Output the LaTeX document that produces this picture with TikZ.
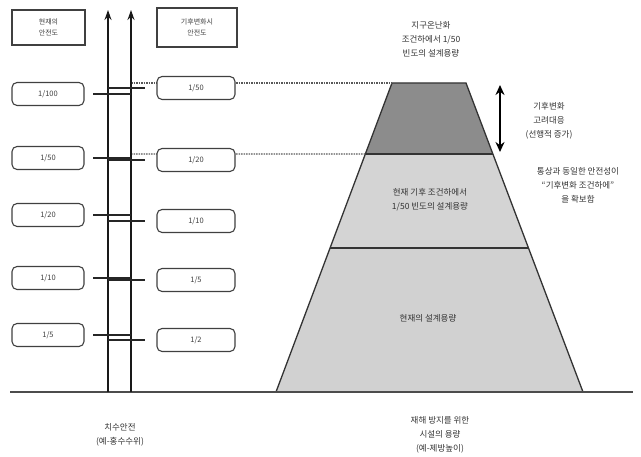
\documentclass[tikz,border=0pt]{standalone}
\usepackage{fontspec}
\setmainfont{Noto Sans CJK KR}
\usetikzlibrary{arrows.meta,calc}
\begin{document}
\begin{tikzpicture}[x=1pt,y=-1pt,
  txt/.style={font=\fontsize{8.5}{14}\selectfont, text=black!80, align=center, inner sep=1pt},
  hdrbox/.style={draw=black!75, line width=1.3pt, fill=white, minimum width=73pt, minimum height=35pt, font=\fontsize{7}{11}\selectfont, text=black!75, align=center},
  valbox/.style={draw=black!75, line width=1.1pt, rounded corners=5pt, fill=white, minimum width=72pt, minimum height=23pt, font=\fontsize{7.5}{9}\selectfont, text=black!75},
  axisline/.style={line width=1.7pt, draw=black!90, -{Stealth[length=10pt,width=7pt]}},
  tick/.style={line width=1.9pt, draw=black!85},
  dotline/.style={draw=black!65, line width=1.3pt, dash pattern=on 1.5pt off 1pt},
  edge/.style={draw=black!80, line width=1.3pt}
]
\useasboundingbox (0,0) rectangle (641,457);

% axes
\coordinate (a1b) at (108,392); \coordinate (a1t) at (108,10);
\coordinate (a2b) at (131,392); \coordinate (a2t) at (131,10);

% trapezoid corners
\coordinate (tl) at (392,83); \coordinate (tr) at (466,83);
\coordinate (bl) at (276,392); \coordinate (br) at (583,392);
\coordinate (m1l) at ($(tl)!0.2298!(bl)$); \coordinate (m1r) at ($(tr)!0.2298!(br)$);
\coordinate (m2l) at ($(tl)!0.534!(bl)$); \coordinate (m2r) at ($(tr)!0.534!(br)$);

\fill[black!45] (tl) -- (tr) -- (m1r) -- (m1l) -- cycle;
\fill[black!17] (m1l) -- (m1r) -- (m2r) -- (m2l) -- cycle;
\fill[black!18] (m2l) -- (m2r) -- (br) -- (bl) -- cycle;
\draw[edge] (bl) -- (tl) -- (tr) -- (br);
\draw[edge] (m1l) -- (m1r);
\draw[edge] (m2l) -- (m2r);

% dotted reference lines
\coordinate (d1) at (131,83); \coordinate (d2) at (131,154);
\draw[dotline] (d1) -- (tl);
\draw[dotline] (d2) -- (m1l);

% ground
\coordinate (g1) at (10,392); \coordinate (g2) at (633,392);
\draw[line width=2.5pt, draw=black!70] (g1) -- (g2);

\draw[axisline] (a1b) -- (a1t);
\draw[axisline] (a2b) -- (a2t);

% header boxes
\node[hdrbox] (h1) at (48.5,27.5) {현재의\\안전도};
\node[hdrbox, minimum width=80pt, minimum height=39pt] (h2) at (197,27.5) {기후변화시\\안전도};

% left value boxes and ticks
\foreach \n/\y/\t in {1/94/1\slash 100,2/158/1\slash 50,3/215/1\slash 20,4/278/1\slash 10,5/335/1\slash 5}{
  \node[valbox] (L\n) at (48,\y) {\t};
  \coordinate (lt\n a) at (93,\y); \coordinate (lt\n b) at (131,\y);
  \draw[tick] (lt\n a) -- (lt\n b);
}
\foreach \n/\y/\t in {1/88/1\slash 50,2/160/1\slash 20,3/221/1\slash 10,4/280/1\slash 5,5/340/1\slash 2}{
  \node[valbox, minimum width=78pt] (R\n) at (196,\y) {\t};
  \coordinate (rt\n a) at (108,\y); \coordinate (rt\n b) at (145,\y);
  \draw[tick] (rt\n a) -- (rt\n b);
}

% double arrow
\coordinate (da1) at (500,85); \coordinate (da2) at (500,152);
\draw[line width=2pt, {Stealth[length=10pt,width=9pt]}-{Stealth[length=10pt,width=9pt]}] (da1) -- (da2);

% texts
\node[txt] (ttop) at (431,39) {지구온난화\\조건하에서 1/50\\빈도의 설계용량};
\node[txt] (tmid) at (430,200) {현재 기후 조건하에서\\1/50 빈도의 설계용량};
\node[txt] (tbot) at (428,318) {현재의 설계용량};
\node[txt] (tarr) at (549,121) {기후변화\\고려대응\\(선행적 증가)};
\node[txt] (tnote) at (578,185) {통상과 동일한 안전성이\\“기후변화 조건하에”\\을 확보함};
\node[txt] (tleft) at (120,435) {치수안전\\(예-홍수수위)};
\node[txt] (tright) at (440,435) {재해 방지를 위한\\시설의 용량\\(예-제방높이)};
\end{tikzpicture}
\end{document}
